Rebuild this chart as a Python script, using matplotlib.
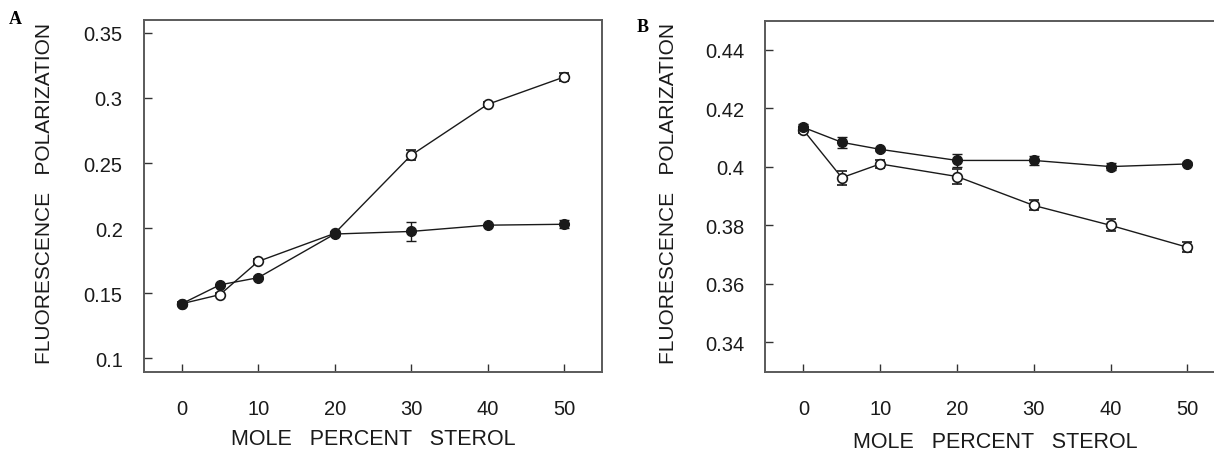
import matplotlib
matplotlib.use("Agg")
from matplotlib import pyplot as plt

plt.rcParams['font.family'] = ['Liberation Sans', 'DejaVu Sans']

# Panel A
sterol = [0, 5, 10, 20, 30, 40, 50]
a_filled = [0.142, 0.1565, 0.162, 0.1955, 0.1975, 0.2023, 0.203]
a_filled_err = [0.001, 0.001, 0.001, 0.001, 0.0075, 0.001, 0.003]
a_open = [0.142, 0.149, 0.1745, 0.196, 0.256, 0.295, 0.316]
a_open_err = [0.001, 0.001, 0.002, 0.001, 0.004, 0.002, 0.003]

# Panel B
b_filled = [0.4135, 0.4084, 0.406, 0.4022, 0.4022, 0.4001, 0.401]
b_filled_err = [0.001, 0.0019, 0.0005, 0.0023, 0.0015, 0.0013, 0.0005]
b_open = [0.4126, 0.3963, 0.401, 0.3967, 0.3868, 0.380, 0.3725]
b_open_err = [0.001, 0.0024, 0.0015, 0.0024, 0.0017, 0.002, 0.0017]

xticks = [0, 10, 20, 30, 40, 50]
a_yticks = [0.1, 0.15, 0.2, 0.25, 0.3, 0.35]
a_ylabels = ['0.1', '0.15', '0.2', '0.25', '0.3', '0.35']
b_yticks = [0.34, 0.36, 0.38, 0.40, 0.42, 0.44]
b_ylabels = ['0.34', '0.36', '0.38', '0.4', '0.42', '0.44']

W, H = 1214, 452
fig = plt.figure(figsize=(W / 100, H / 100), dpi=100)

ax_a = fig.add_axes([143.5 / W, 1 - 372.5 / H, 458.8 / W, 351.8 / H])
ax_b = fig.add_axes([765 / W, 1 - 372.5 / H, 460.8 / W, 350.8 / H])

line_c = '#1a1a1a'


def draw(ax, filled, ferr, opened, oerr, yticks, ylabels, ylim, lx, ly):
    ax.errorbar(sterol, opened, yerr=oerr, color=line_c, lw=1.0, marker='o',
                markersize=7, markerfacecolor='white', markeredgecolor=line_c,
                markeredgewidth=1.2, capsize=3.5, elinewidth=1.0, capthick=1.0,
                zorder=2)
    ax.errorbar(sterol, filled, yerr=ferr, color=line_c, lw=1.0, marker='o',
                markersize=7, markerfacecolor=line_c, markeredgecolor=line_c,
                capsize=3.5, elinewidth=1.0, capthick=1.0, zorder=3)
    ax.set_xlim(-5, 55)
    ax.set_ylim(*ylim)
    ax.set_xticks(xticks)
    ax.set_yticks(yticks)
    ax.set_yticklabels(ylabels)
    ax.tick_params(axis='both', direction='in', length=5.5, width=1.0,
                   colors='#333333', labelsize=14.5, labelcolor='#1a1a1a')
    ax.tick_params(axis='x', pad=20)
    ax.tick_params(axis='y', pad=15)
    ax.tick_params(top=False, right=False)
    for s in ax.spines.values():
        s.set_color('#5a5a5a')
        s.set_linewidth(1.4)
    ax.set_ylabel('FLUORESCENCE   POLARIZATION', fontsize=15, color='#1a1a1a')
    ax.yaxis.set_label_coords(lx, 0.51)
    ax.set_xlabel('MOLE   PERCENT   STEROL', fontsize=15.5, color='#1a1a1a')
    ax.xaxis.set_label_coords(0.5, ly)
    ax.xaxis.label.set_va('center')


draw(ax_a, a_filled, a_filled_err, a_open, a_open_err, a_yticks, a_ylabels,
     (0.09, 0.36), -0.195, -0.19)
draw(ax_b, b_filled, b_filled_err, b_open, b_open_err, b_yticks, b_ylabels,
     (0.33, 0.45), -0.189, -0.2)

fig.text(15 / W, 1 - 19 / H, 'A', fontsize=13, fontweight='bold',
         family=['Liberation Serif', 'DejaVu Serif'], ha='center', va='center')
fig.text(643 / W, 1 - 27 / H, 'B', fontsize=13, fontweight='bold',
         family=['Liberation Serif', 'DejaVu Serif'], ha='center', va='center')

fig.savefig('out.png', dpi=100)
